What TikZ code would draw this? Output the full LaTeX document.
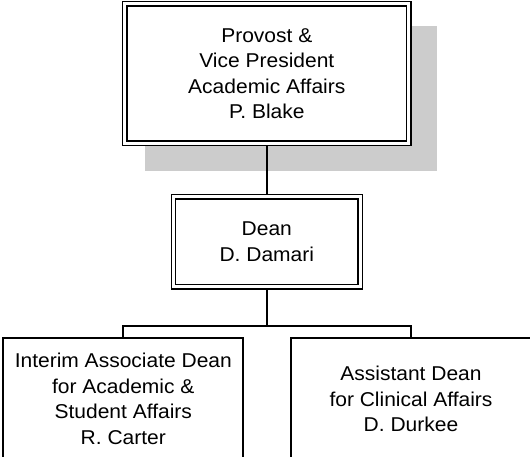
\documentclass[tikz,border=0pt]{standalone}
\usepackage{fontspec}
\setmainfont{Liberation Sans}[FakeStretch=1.05]
\tikzset{
  headbox/.style={draw,fill=white,line width=1.4pt,double,double distance=3pt,
    outer sep=2.9pt,inner sep=0pt,align=center,
    font=\fontsize{20}{25.6}\selectfont},
  deptbox/.style={draw,fill=white,line width=1.8pt,inner sep=0pt,
    minimum width=240pt,minimum height=121.4pt,align=center,
    font=\fontsize{20}{25.6}\selectfont},
  shadowfill/.style={fill=black!20},
  link/.style={line width=1.8pt}
}
\begin{document}
\begin{tikzpicture}[x=1pt,y=-1pt]
  \useasboundingbox (0,0) rectangle (530,456);
  % shadow behind the provost box
  \path[shadowfill] (145,26) rectangle (437,171);
  \path (266.8,73.6) node[headbox,minimum width=284pt,minimum height=139.5pt] (provost)
    {Provost \&\\Vice President\\Academic Affairs\\P. Blake};
  \path (266.8,241.8) node[headbox,minimum width=186.6pt,minimum height=90.3pt] (dean)
    {Dean\\D. Damari};
  \path (123.3,399) node[deptbox] (carter)
    {Interim Associate Dean\\for Academic \&\\Student Affairs\\R. Carter};
  \path (411,399) node[deptbox] (durkee)
    {Assistant Dean\\for Clinical Affairs\\D. Durkee};
  \coordinate (split) at (266.8,325.7);
  % connectors
  \draw[link] (provost) -- (dean);
  \draw[link] (dean) -- (split);
  \draw[link] (carter.north) |- (split) -| (durkee.north);
\end{tikzpicture}
\end{document}
